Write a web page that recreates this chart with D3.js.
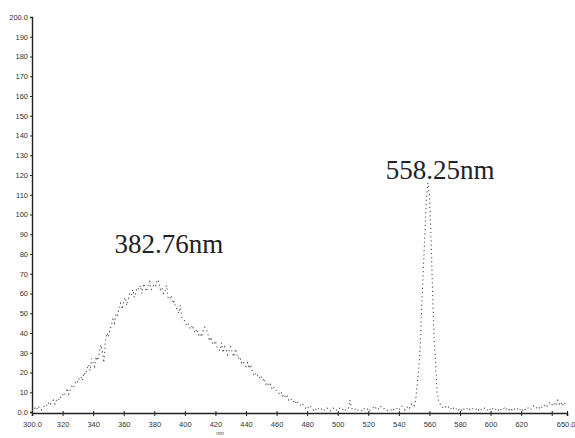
<!DOCTYPE html>
<html>
<head>
<meta charset="utf-8">
<script src="https://cdn.jsdelivr.net/npm/d3@7"></script>
<style>
  html, body { margin: 0; padding: 0; background: #fff; }
  svg { display: block; }
</style>
</head>
<body>
<svg id="chart" width="575" height="438"></svg>
<script>
// Emission spectrum, intensity sampled every 1 nm from 300 to 650 nm
const wavelengthStart = 300;
const intensity = [
  1,0.5,2,1,3,2,1,2,3,4,
  3,5,4,5,6,4,6,7,6,8,
  9,8,10,12,9,11,13,12,14,16,
  15,17,18,16,20,19,22,24,21,27,
  25,23,28,26,30,34,31,25,36,40,
  38,42,44,47,45,50,49,53,55,52,
  56,58,54,57,60,59,62,58,61,63,
  62,64,60,65,63,61,64,66,62,63,
  65,64,67,66,62,63,60,61,64,58,
  57,59,55,56,53,52,50,54,48,47,
  46,44,45,43,42,44,41,40,42,39,
  40,38,41,43,42,40,36,38,35,34,
  36,33,32,31,35,30,33,32,29,31,
  33,30,28,32,29,27,28,25,26,24,
  23,25,22,24,21,19,20,18,19,17,
  18,16,17,14,15,13,14,12,13,11,
  11,10,9,10,8,9,7,8,6,7,
  6,5,6,4,5,4,3,4,3,2,
  3,2,3,2,1,2,1,2,1,1,
  2,1,1,2,1,0.5,1,2,1,1,
  1,2,1,1,2,1,1,2,6,2,
  1,1,2,1,1,0.5,1,2,1,1,
  2,1,1,2,3,2,1,2,3,2,
  2,1,1,0.5,1,1,2,1,1,2,
  1,2,3,2,1,2,3,2,4,3,
  3,6,14,22,33,55,72,90,108,116,
  110,90,62,38,26,10,6,4,3,2,
  3,2,2,3,2,1,2,1,2,1,
  2,1,2,1,1,2,1,2,2,1,
  1,2,1,2,1,1,2,1,1,2,
  1,2,1,1,2,1,2,1,1,2,
  1,2,1,2,1,2,1,1,2,1,
  2,1,2,1,2,2,1,2,3,2,
  2,3,2,3,2,3,4,3,4,5,
  4,3,5,4,6,4,5,3,5,4,
  4
];

// Tick values and their printed labels (640 carries a mark but no label)
const xTicks = [300,320,340,360,380,400,420,440,460,480,500,520,540,560,580,600,620,640,650];
const xTickLabels = ["300.0","320","340","360","380","400","420","440","460","480","500","520","540","560","580","600","620","","650.0"];
const yTicks = [0,10,20,30,40,50,60,70,80,90,100,110,120,130,140,150,160,170,180,190,200];
const yTickLabels = ["0.0","10","20","30","40","50","60","70","80","90","100","110","120","130","140","150","160","170","180","190","200.0"];

// Peak annotations
const peakLabels = [
  { text: "382.76nm", nm: 382.76, value: 67 },
  { text: "558.25nm", nm: 558.25, value: 117 }
];

const data = intensity.map((v, i) => ({ nm: wavelengthStart + i, v }));

const svg = d3.select("#chart");
const x = d3.scaleLinear().domain([300, 650]).range([32, 567]);
const y = d3.scaleLinear().domain([0, 200]).range([412, 17]);

const axisColor = "#222";
const labelFont = "'Liberation Sans', Arial, sans-serif";

// Y axis
const yAxis = d3.axisLeft(y)
  .tickValues(yTicks)
  .tickFormat((d, i) => yTickLabels[i])
  .tickSize(2)
  .tickPadding(2);
const gy = svg.append("g").attr("transform", `translate(${x(300)},0)`).call(yAxis);
gy.select(".domain").attr("stroke", axisColor).attr("stroke-width", 1.4);
gy.selectAll(".tick line").attr("stroke", axisColor);
gy.selectAll(".tick text")
  .attr("font-family", labelFont)
  .attr("font-size", 7.5)
  .attr("fill", "#333");

// X axis
const xAxis = d3.axisBottom(x)
  .tickValues(xTicks)
  .tickFormat((d, i) => xTickLabels[i])
  .tickSize(3)
  .tickPadding(6);
const gx = svg.append("g").attr("transform", `translate(0,${y(0) + 1})`).call(xAxis);
gx.select(".domain").attr("stroke", axisColor).attr("stroke-width", 1.6);
gx.selectAll(".tick line").attr("stroke", axisColor).attr("y1", -2);
gx.selectAll(".tick text")
  .attr("font-family", labelFont)
  .attr("font-size", 7.5)
  .attr("fill", "#333");
// keep the last label inside the frame
gx.selectAll(".tick text").filter(d => d === 650).attr("text-anchor", "end").attr("dx", 8);

// Axis unit
svg.append("text")
  .attr("x", x(423))
  .attr("y", 435)
  .attr("text-anchor", "middle")
  .attr("font-family", labelFont)
  .attr("font-size", 5.5)
  .attr("fill", "#444")
  .text("nm");

// Spectrum trace as a fine dotted line
const line = d3.line().x(d => x(d.nm)).y(d => y(d.v));
svg.append("path")
  .datum(data)
  .attr("d", line)
  .attr("fill", "none")
  .attr("stroke", "#555")
  .attr("stroke-width", 1.1)
  .attr("stroke-dasharray", "1.2 3");

// Peak wavelength labels
svg.selectAll(".peak")
  .data(peakLabels)
  .join("text")
  .attr("class", "peak")
  .attr("x", (d, i) => x(d.nm) - (i === 0 ? 44 : 41))
  .attr("y", (d, i) => i === 0 ? 253 : 179)
  .attr("font-family", "'Liberation Serif', 'Times New Roman', serif")
  .attr("font-size", 27)
  .attr("fill", "#222")
  .text(d => d.text);
</script>
</body>
</html>
